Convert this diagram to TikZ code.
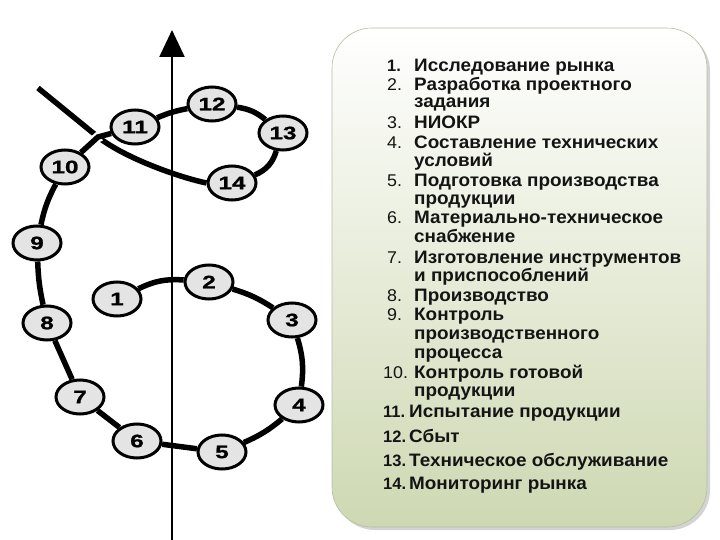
\documentclass[tikz,border=0pt]{standalone}
\usepackage{fontspec}
\setmainfont{Liberation Sans}
\newfontfamily\listfont{Liberation Sans}[FakeStretch=1.05]
\newfontfamily\stagefont{Liberation Sans Bold}[FakeStretch=1.35,FakeBold=1.2]
\usetikzlibrary{arrows.meta,shapes.geometric,shadows}

\definecolor{panelgreen}{RGB}{206,216,178}
\definecolor{stagegray}{RGB}{228,228,228}
\definecolor{inktext}{RGB}{20,20,20}

\tikzset{
  stage/.style={ellipse,draw,line width=3pt,fill=stagegray,minimum width=48pt,
    minimum height=34pt,inner sep=0pt,font=\stagefont\fontsize{18}{18}\selectfont},
  link/.style={line width=5.5pt},
  panel/.style={rounded corners=40pt,draw=panelgreen!70!gray,line width=0.6pt,
    top color=white,bottom color=panelgreen,
    drop shadow={shadow xshift=3pt,shadow yshift=-3pt,opacity=0.35}},
  item/.style={anchor=base west,inner sep=0pt,text=inktext,
    font=\listfont\bfseries\fontsize{18}{18}\selectfont},
  num/.style={anchor=base west,inner sep=0pt,text=inktext,
    font=\listfont\fontsize{17}{17}\selectfont},
  boldnum/.style={num,font=\bfseries\fontsize{16.5}{16.5}\selectfont}
}

\begin{document}
\begin{tikzpicture}[x=1pt,y=-1pt]
  \useasboundingbox (0,0) rectangle (720,540);

  \node[panel,minimum width=375pt,minimum height=499pt] (panel) at (519.5,277.5) {};

  \coordinate (axisbottom) at (172,540);
  \coordinate (axistop) at (172,30);
  \draw[line width=2.3pt,-{Triangle[width=25pt,length=27pt]}] (axisbottom) -- (axistop);

  \node[stage] (s1) at (117,299) {1};
  \node[stage] (s2) at (209,282) {2};
  \node[stage] (s3) at (292,320) {3};
  \node[stage] (s4) at (299,405) {4};
  \node[stage] (s5) at (222,452) {5};
  \node[stage] (s6) at (137,441) {6};
  \node[stage] (s7) at (80,397) {7};
  \node[stage] (s8) at (47,323) {8};
  \node[stage] (s9) at (37,243) {9};
  \node[stage] (s10) at (65,167) {10};
  \node[stage] (s11) at (135,127) {11};
  \node[stage] (s12) at (212,104) {12};
  \node[stage] (s13) at (283,133) {13};
  \node[stage] (s14) at (232,183) {14};

  \coordinate (cross) at (98,137);
  \coordinate (tail) at (38,88);

  \draw[link] (s1) to[bend left=15] (s2);
  \draw[link] (s2) to[bend left=8] (s3);
  \draw[link] (s3) to[bend left=12] (s4);
  \draw[link] (s4) to[bend left=8] (s5);
  \draw[link] (s5) -- (s6);
  \draw[link] (s6) -- (s7);
  \draw[link] (s7) -- (s8);
  \draw[link] (s8) to[bend left=5] (s9);
  \draw[link] (s9) to[bend left=8] (s10);
  \draw[link] (s11) to[bend left=6] (s12);
  \draw[link] (s12) to[bend left=15] (s13);
  \draw[link] (s13) to[bend left=25] (s14);
  \draw[link] (s14.west) .. controls (178,177) and (125,158) .. (cross) -- (tail);
  \draw[link,preaction={draw=white,line width=10pt,shorten <=10pt,shorten >=10pt}]
    (s10) -- (cross) -- (s11);

  \foreach \y/\txt in {66/Исследование рынка, 85/Разработка проектного, 102/задания,
      123/НИОКР, 143/Составление технических, 161/условий, 181/Подготовка производства,
      199/продукции, 218/Материально-техническое, 237/снабжение,
      257/Изготовление инструментов, 275/и приспособлений, 295/Производство,
      314/Контроль, 333/производственного, 352/процесса, 372/Контроль готовой,
      390/продукции}
    \node[item] (line\y) at (414,{\y+6}) {\txt};
  \foreach \y/\txt in {411/Испытание продукции, 436/Сбыт,
      460/Техническое обслуживание, 483/Мониторинг рынка}
    \node[item] (line\y) at (409,{\y+6}) {\txt};

  \foreach \y/\n in {85/2, 123/3, 143/4, 181/5, 218/6, 257/7, 295/8, 314/9}
    \node[num] (num\n) at (387,{\y+6}) {\n.};
  \node[boldnum] (num1) at (387,72) {1.};
  \node[num] (num10) at (383,378) {10.};
  \foreach \y/\n in {411/11, 436/12, 460/13, 483/14}
    \node[boldnum] (num\n) at (383,{\y+6}) {\n.};
\end{tikzpicture}
\end{document}
